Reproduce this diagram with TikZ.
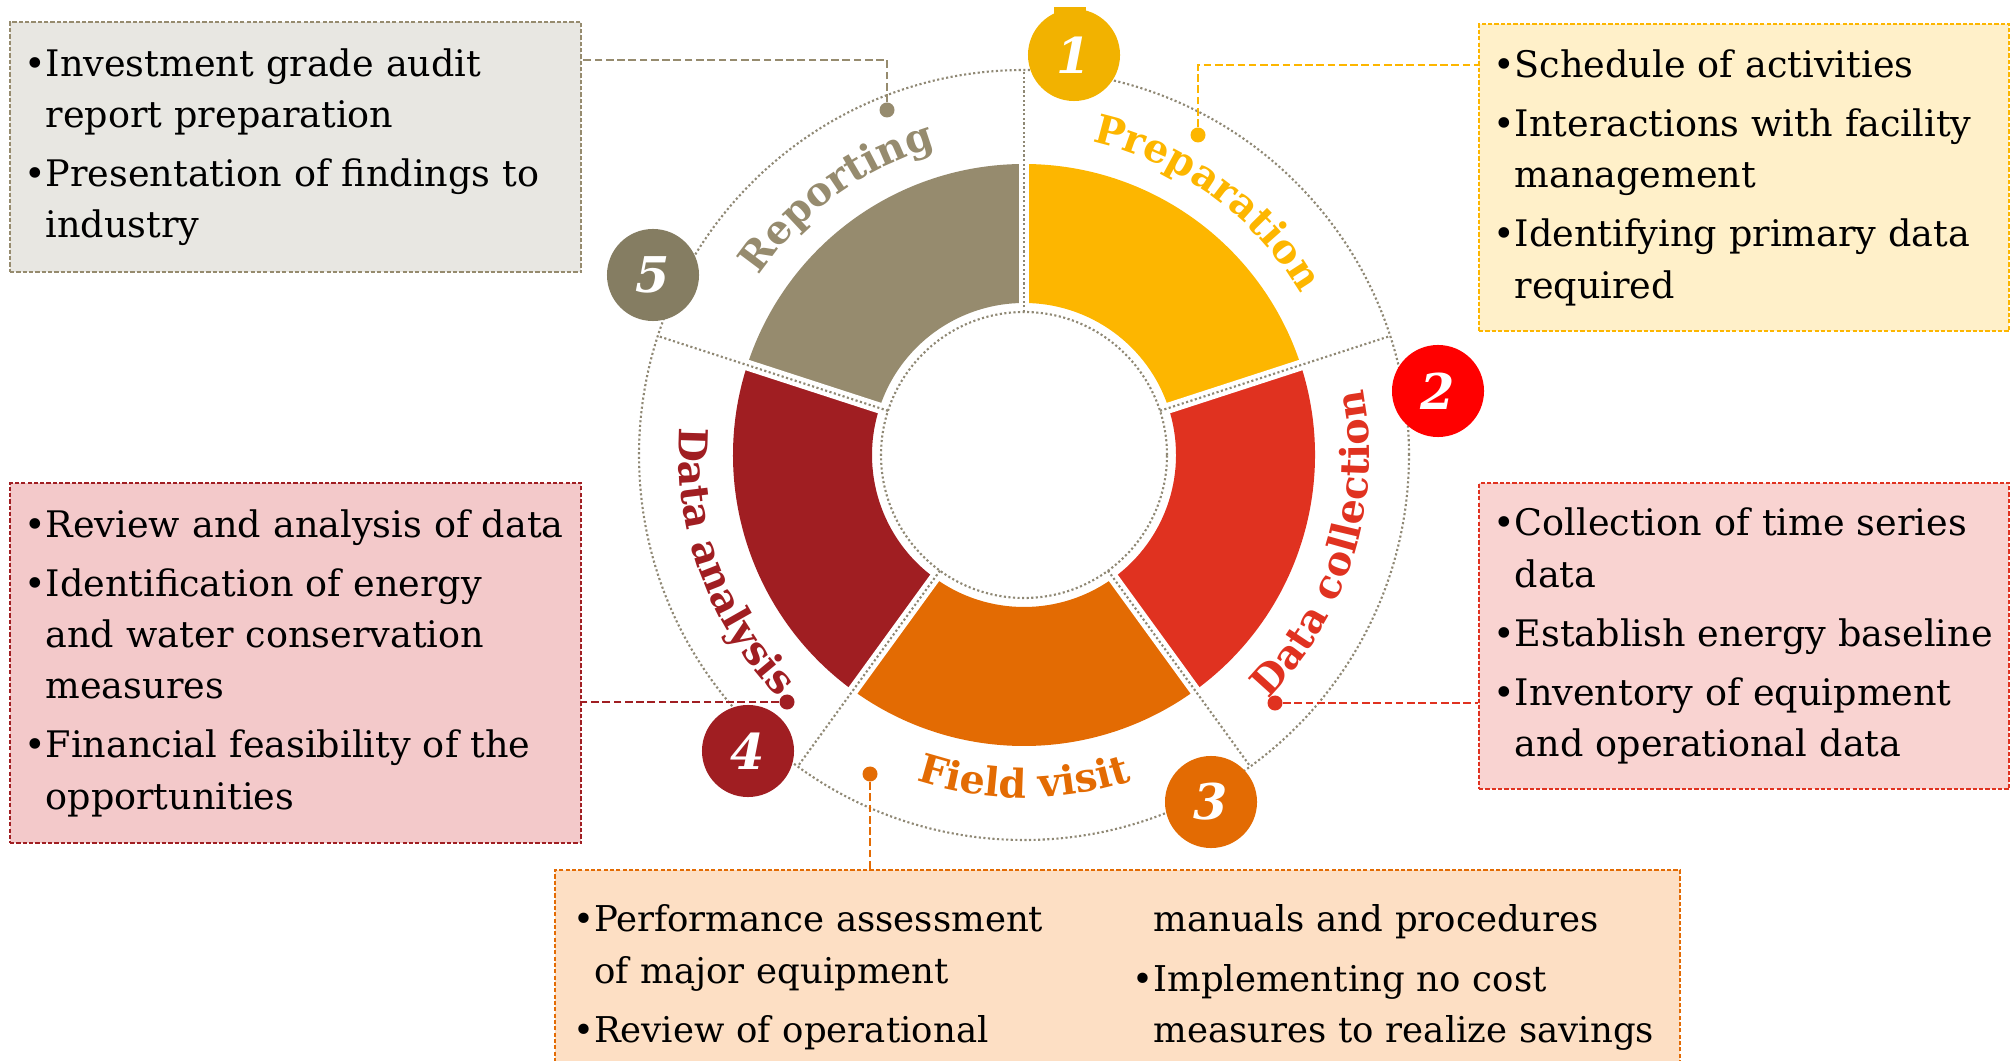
\documentclass[tikz,border=0pt]{standalone}
\usepackage{fontspec}
\setmainfont{DejaVu Serif}
\usetikzlibrary{decorations.text}

\definecolor{prepcol}{RGB}{253,182,0}
\definecolor{collcol}{RGB}{224,50,32}
\definecolor{fieldcol}{RGB}{227,107,3}
\definecolor{anacol}{RGB}{160,30,34}
\definecolor{repcol}{RGB}{150,139,110}
\definecolor{onecol}{RGB}{242,178,0}
\definecolor{twocol}{RGB}{255,0,0}
\definecolor{fivecol}{RGB}{133,125,98}
\definecolor{repfill}{RGB}{232,231,226}
\definecolor{prepfill}{RGB}{255,240,201}
\definecolor{collfill}{RGB}{249,211,209}
\definecolor{anafill}{RGB}{243,201,202}
\definecolor{fieldfill}{RGB}{253,223,196}
\definecolor{ringgray}{RGB}{143,136,116}

\newcommand{\boxfont}{\fontsize{10.4}{14.6}\selectfont}
\newcommand{\fieldfont}{\fontsize{10.1}{14.6}\selectfont}
\newcommand{\labelfont}{\fontsize{11.3}{11.3}\selectfont\bfseries}
\newcommand{\badgefont}{\fontsize{14}{14}\selectfont\bfseries\itshape}
\newcommand{\ind}{\hphantom{\textbullet}}

\begin{document}
\begin{tikzpicture}[x=0.01cm, y=0.01cm,
    ring/.style={draw=ringgray, line width=0.6pt, dash pattern=on 0.6pt off 0.7pt},
    infobox/.style={rectangle, anchor=north west, align=left, inner xsep=0.14cm,
        font=\boxfont, line width=0.6pt, dash pattern=on 1.2pt off 0.6pt},
    badge/.style={circle, minimum size=0.92cm, inner sep=0pt, text=white, font=\badgefont},
    enddot/.style={circle, minimum size=0.15cm, inner sep=0pt},
    link/.style={line width=0.7pt, dash pattern=on 2.2pt off 1pt}]

    \useasboundingbox (0,0) rectangle (2015,-1061);

    % the wheel
    \begin{scope}[shift={(1024,-455)}]
        \foreach \a/\col in {90/prepcol, 18/collcol, -54/fieldcol, -126/anacol, -198/repcol}
            \fill[\col] (\a:152) arc[start angle=\a, end angle=\a-72, radius=152]
                -- (\a-72:291) arc[start angle=\a-72, end angle=\a, radius=291] -- cycle;
        \foreach \a in {90,18,...,-198} {
            \draw[white, line width=3.1pt] (\a:140) -- (\a:300);
            \draw[ring] (\a:143) -- (\a:385);
        }
        \draw[ring] (0,0) circle[radius=143];
        \draw[ring] (0,0) circle[radius=385];

        \path[decorate, decoration={text along path, text color=prepcol, text align=center,
            text={|\labelfont|Preparation}}] (90:320) arc[start angle=90, end angle=18, radius=320];
        \path[decorate, decoration={text along path, text color=collcol, text align=center,
            text={|\labelfont|Data collection}}] (-53:345) arc[start angle=-53, end angle=19, radius=345];
        \path[decorate, decoration={text along path, text color=fieldcol, text align=center,
            text={|\labelfont|Field visit}}] (-126:343) arc[start angle=-126, end angle=-54, radius=343];
        \path[decorate, decoration={text along path, text color=anacol, text align=center,
            text={|\labelfont|Data analysis}}] (164:345) arc[start angle=164, end angle=236, radius=345];
        \path[decorate, decoration={text along path, text color=repcol, text align=center,
            text={|\labelfont|Reporting}}] (162:320) arc[start angle=162, end angle=90, radius=320];
    \end{scope}

    % numbered badges
    \fill[onecol] (1054,-7) rectangle (1086,-14);
    \node[badge, fill=onecol] (one) at (1074,-55) {1};
    \node[badge, fill=twocol] (two) at (1438,-391) {2};
    \node[badge, fill=fieldcol] (three) at (1211,-802) {3};
    \node[badge, fill=anacol] (four) at (748,-751) {4};
    \node[badge, fill=fivecol] (five) at (653,-275) {5};

    % boxes
    \node[infobox, draw=repcol, fill=repfill, text width=5.43cm, minimum height=2.5cm] (repbox) at (9,-21)
        {\textbullet Investment grade audit\\ \ind report preparation\\[2.2pt]
         \textbullet Presentation of findings to\\ \ind industry};
    \node[infobox, draw=prepcol, fill=prepfill, text width=5.02cm, minimum height=3.07cm] (prepbox) at (1478,-23)
        {\textbullet Schedule of activities\\[2.2pt]
         \textbullet Interactions with facility\\ \ind management\\[2.2pt]
         \textbullet Identifying primary data\\ \ind required};
    \node[infobox, draw=collcol, fill=collfill, text width=5.02cm, minimum height=3.06cm] (collbox) at (1478,-482)
        {\textbullet Collection of time series\\ \ind data\\[2.2pt]
         \textbullet Establish energy baseline\\[2.2pt]
         \textbullet Inventory of equipment\\ \ind and operational data};
    \node[infobox, draw=anacol, fill=anafill, text width=5.43cm, minimum height=3.6cm] (anabox) at (9,-482)
        {\textbullet Review and analysis of data\\[2.2pt]
         \textbullet Identification of energy\\ \ind and water conservation\\ \ind measures\\[2.2pt]
         \textbullet Financial feasibility of the\\ \ind opportunities};
    \node[infobox, draw=fieldcol, fill=fieldfill, font=\fieldfont, inner xsep=0.1cm, text width=11.04cm, minimum height=2.15cm] (fieldbox) at (554,-869)
        {\noindent\hspace*{0.08cm}\parbox[t]{5.59cm}{\raggedright\textbullet Performance assessment\\\ind of major equipment\\[2.2pt]\textbullet Review of operational}%
         \parbox[t]{5.37cm}{\raggedright\ind manuals and procedures\\[2.2pt]\textbullet Implementing no cost\\\ind measures to realize savings}};

    % dots and links
    \node[enddot, fill=repcol] (repdot) at (887,-110) {};
    \node[enddot, fill=prepcol] (prepdot) at (1198,-135) {};
    \node[enddot, fill=collcol] (colldot) at (1275,-703) {};
    \node[enddot, fill=fieldcol] (fielddot) at (870,-774) {};
    \node[enddot, fill=anacol] (anadot) at (787,-702) {};
    \coordinate (repknee) at (887,-60);
    \coordinate (prepknee) at (1198,-65);

    \draw[link, draw=repcol] (repdot) -- (repknee) -- (repknee -| repbox.east);
    \draw[link, draw=prepcol] (prepdot) -- (prepknee) -- (prepknee -| prepbox.west);
    \draw[link, draw=collcol] (colldot) -- (colldot -| collbox.west);
    \draw[link, draw=anacol] (anadot) -- (anadot -| anabox.east);
    \draw[link, draw=fieldcol] (fielddot) -- (fielddot |- fieldbox.north);
\end{tikzpicture}
\end{document}
